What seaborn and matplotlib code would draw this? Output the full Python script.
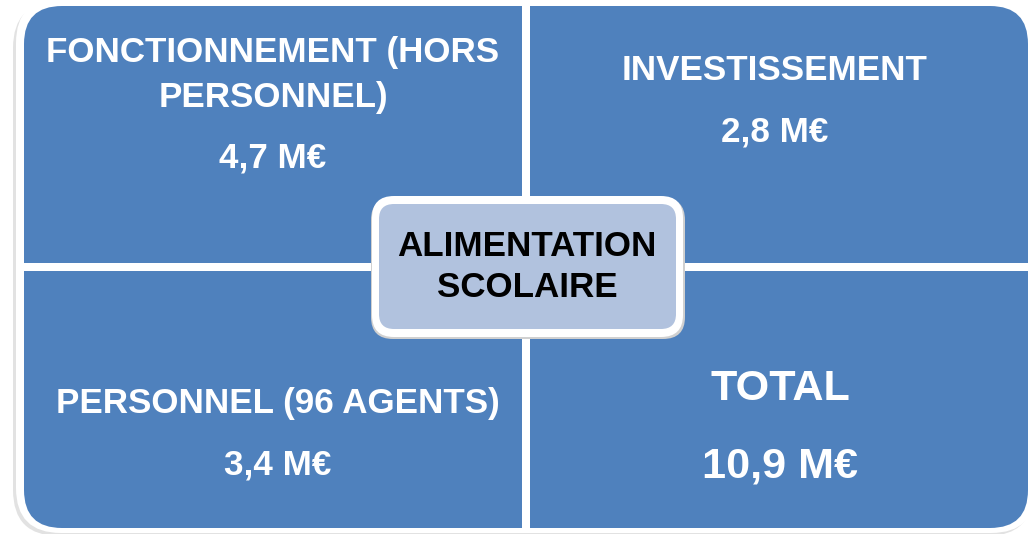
import matplotlib.pyplot as plt
import seaborn as sns
from matplotlib import font_manager
from matplotlib.patches import FancyBboxPatch, Rectangle

# data
labels = ["FONCTIONNEMENT (HORS\nPERSONNEL)", "INVESTISSEMENT",
          "PERSONNEL (96 AGENTS)", "TOTAL"]
values = [4.7, 2.8, 3.4, 10.9]
center_label = "ALIMENTATION\nSCOLAIRE"

sns.set_theme(style="white")

names = {f.name for f in font_manager.fontManager.ttflist}
if "Liberation Sans Narrow" in names:
    FAMILY = ["Liberation Sans Narrow", "DejaVu Sans"]
    k = 1.0
else:
    FAMILY = ["Liberation Sans", "DejaVu Sans"]
    k = 0.84
plt.rcParams["font.family"] = FAMILY

BLUE = "#4f81bd"
LIGHT = "#b1c2de"

W, H = 1032, 534
fig = plt.figure(figsize=(W / 100, H / 100), dpi=100)
ax = fig.add_axes([0, 0, 1, 1])
ax.set_xlim(0, W)
ax.set_ylim(H, 0)
ax.axis("off")


def rbox(x0, y0, x1, y1, r, **kw):
    p = FancyBboxPatch((x0, y0), x1 - x0, y1 - y0,
                       boxstyle=f"round,pad=0,rounding_size={r}", **kw)
    ax.add_patch(p)
    return p


# outer frame: soft shadow, white border, blue block
rbox(13, 2, 1033, 536, 46, facecolor="#e2e2e2", edgecolor="none")
rbox(16, -2, 1036, 533, 45, facecolor="white", edgecolor="none")
rbox(24, 6, 1028, 528, 38, facecolor=BLUE, edgecolor="none")

# white dividers between quadrants
ax.add_patch(Rectangle((522, 6), 8, 522, facecolor="white", edgecolor="none"))
ax.add_patch(Rectangle((24, 263), 1004, 8, facecolor="white", edgecolor="none"))

# quadrant texts
fmt = [f"{v:.1f}".replace(".", ",") + " M€" for v in values]
txt = dict(color="white", fontweight="bold", ha="center", va="center")

ax.text(273, 75, labels[0], fontsize=30 * k, linespacing=1.45, **txt)
ax.text(273, 158, fmt[0], fontsize=30 * k, **txt)
ax.text(775, 70, labels[1], fontsize=30 * k, **txt)
ax.text(775, 132, fmt[1], fontsize=30 * k, **txt)
ax.text(278, 403, labels[2], fontsize=30 * k, **txt)
ax.text(278, 465, fmt[2], fontsize=30 * k, **txt)
ax.text(780, 389, labels[3], fontsize=37 * k, **txt)
ax.text(780, 466, fmt[3], fontsize=37 * k, **txt)

# centre box
rbox(371, 198, 685, 339, 22, facecolor="#d0d0d0", edgecolor="none")
rbox(372, 196, 683, 337, 22, facecolor="white", edgecolor="none")
rbox(379, 204, 676, 329, 15, facecolor=LIGHT, edgecolor="none")
ax.text(527, 267, center_label, fontsize=30 * k, color="black",
        fontweight="bold", ha="center", va="center", linespacing=1.3)

fig.savefig("out.png", dpi=100)
